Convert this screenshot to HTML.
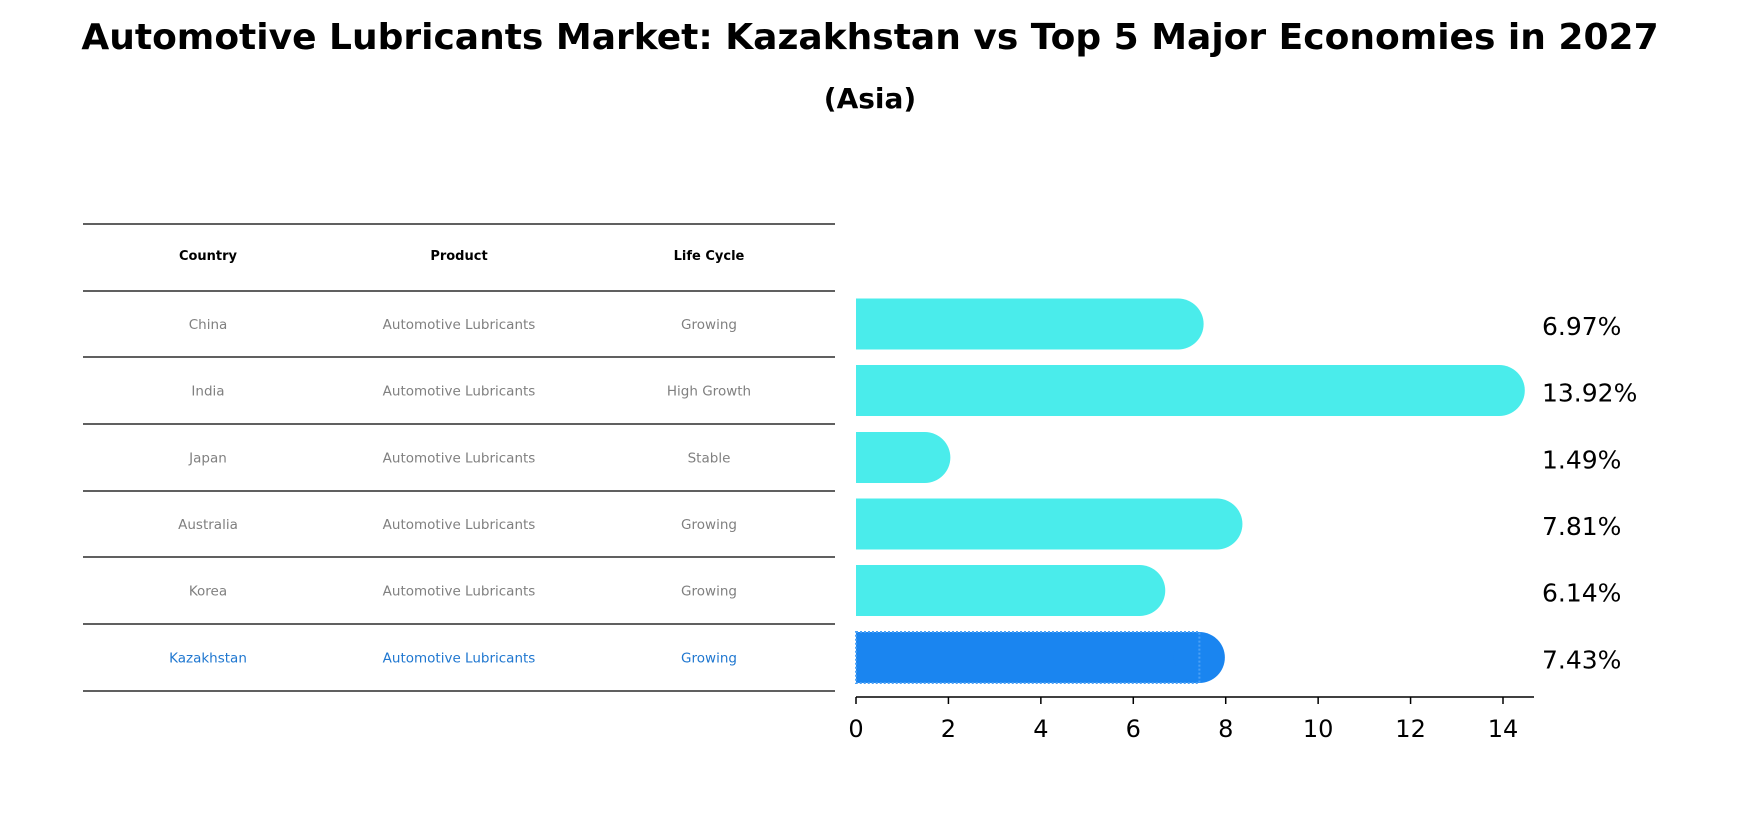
<!DOCTYPE html>
<html><head><meta charset="utf-8"><style>
body{margin:0;background:#fff;width:1740px;height:823px;overflow:hidden;font-family:"Liberation Sans","DejaVu Sans",sans-serif;}
</style></head><body>
<svg width="1740" height="823" xmlns="http://www.w3.org/2000/svg">
<text x="870" y="49" text-anchor="middle" font-size="36" font-weight="bold" font-family="DejaVu Sans, Liberation Sans, sans-serif">Automotive Lubricants Market: Kazakhstan vs Top 5 Major Economies in 2027</text>
<text x="870" y="108" text-anchor="middle" font-size="28" font-weight="bold" font-family="DejaVu Sans, Liberation Sans, sans-serif">(Asia)</text>
<g id="table"></g>
<g id="bars"></g>
</svg>
<script>
const countries=["China","India","Japan","Australia","Korea","Kazakhstan"];
const products=["Automotive Lubricants","Automotive Lubricants","Automotive Lubricants","Automotive Lubricants","Automotive Lubricants","Automotive Lubricants"];
const lifecycles=["Growing","High Growth","Stable","Growing","Growing","Growing"];
const growth=[6.97,13.92,1.49,7.81,6.14,7.43];
const ticks=[0,2,4,6,8,10,12,14];
const NS="http://www.w3.org/2000/svg";
function mk(t,a,p){const e=document.createElementNS(NS,t);for(const k in a)e.setAttribute(k,a[k]);p.appendChild(e);return e;}
const tb=document.getElementById('table'),bg=document.getElementById('bars');
const lineYs=[224,291,357,424,491,557,624,691];
const colX=[208,459,709];
const F='DejaVu Sans, Liberation Sans, sans-serif';
lineYs.forEach((y,i)=>{const l=mk('line',{x1:83,x2:835,y1:y,y2:y,stroke:'#000','stroke-width':1.2},tb);

});
["Country","Product","Life Cycle"].forEach((h,j)=>{const t=mk('text',{x:colX[j],y:260,'text-anchor':'middle','font-size':13,'font-weight':'bold','font-family':F},tb);t.textContent=h;

});
countries.forEach((c,i)=>{const y=(lineYs[i+1]+lineYs[i+2])/2+5;const col=c==="Kazakhstan"?'#1f77d0':'#808080';
[c,products[i],lifecycles[i]].forEach((v,j)=>{const t=mk('text',{x:colX[j],y:y,'text-anchor':'middle','font-size':13.5,fill:col,'font-family':F},tb);t.textContent=v;

});});
// bar axes
const x0=856,pxPer=(1503-856)/14;
const xs=v=>x0+v*pxPer;
const rowY=i=>(lineYs[i+1]+lineYs[i+2])/2;
const bh=51;
growth.forEach((v,i)=>{const cy=rowY(i);const kz=countries[i]==="Kazakhstan";const fill=kz?'#1a85f0':'#4aeceb';
const r=mk('rect',{x:x0,y:cy-bh/2,width:xs(v)-x0,height:bh,fill:fill},bg);


const c=mk('circle',{cx:xs(v),cy:cy,r:bh/2,fill:fill},bg);


if(kz){const o=mk('rect',{x:x0,y:cy-bh/2,width:xs(v)-x0,height:bh,fill:'none',stroke:'#4aa0f5','stroke-width':2,'stroke-dasharray':'2 2'},bg);

}
const t=mk('text',{x:1542,y:cy+11,'font-size':25,'font-family':F},bg);t.textContent=v.toFixed(2)+'%';

});
const ax=mk('line',{x1:x0,x2:1534,y1:697,y2:697,stroke:'#000','stroke-width':1.5},bg);


ticks.forEach(v=>{const l=mk('line',{x1:xs(v),x2:xs(v),y1:697,y2:704,stroke:'#000','stroke-width':1.5},bg);


const t=mk('text',{x:xs(v),y:737,'text-anchor':'middle','font-size':24,'font-family':F},bg);t.textContent=v;

});
</script>
</body></html>
